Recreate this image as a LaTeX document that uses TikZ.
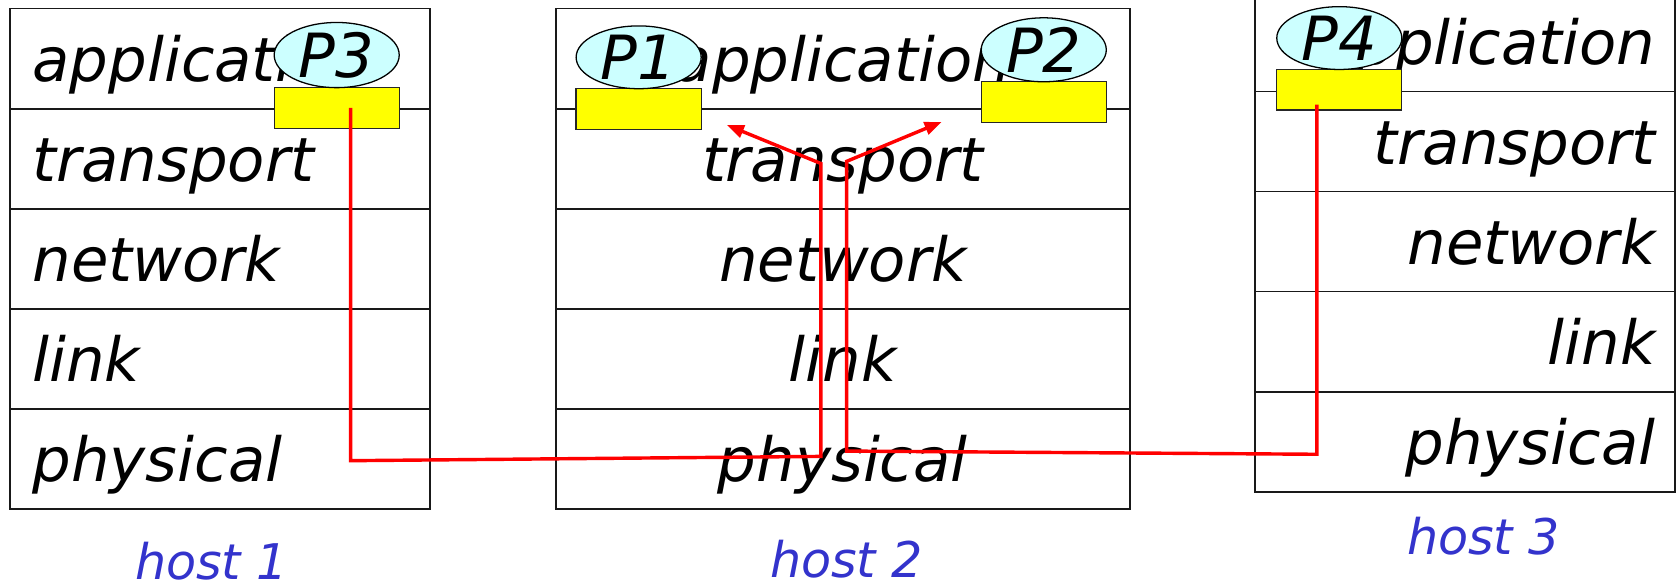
\documentclass[tikz,border=0pt]{standalone}
\usepackage{fontspec}
\setmainfont{DejaVu Sans}
\usetikzlibrary{shapes.geometric,arrows.meta,calc}
\definecolor{pcyan}{HTML}{CCFFFF}
\definecolor{sockyel}{HTML}{FFFF00}
\definecolor{hostblue}{HTML}{3333CC}
\definecolor{pathred}{HTML}{FF0000}
\begin{document}
\begin{tikzpicture}[x=0.5pt,y=-0.5pt,
  layerbox/.style={draw=black!90, line width=0.85pt, minimum height=46.8pt, inner sep=0pt, outer sep=0pt, anchor=north west},
  lyrtxt/.style={font=\fontsize{28.5}{30}\selectfont\itshape, inner sep=0pt},
  proc/.style={ellipse, draw=black, line width=0.6pt, fill=pcyan, minimum width=58.5pt, minimum height=29pt, inner sep=0pt, outer sep=0pt, font=\fontsize{28.5}{30}\selectfont\itshape},
  sock/.style={draw=black!85, line width=0.6pt, fill=sockyel, minimum width=58.5pt, minimum height=19pt, inner sep=0pt, outer sep=0pt},
  hostlbl/.style={font=\fontsize{23}{25}\selectfont\itshape, text=hostblue, inner sep=0pt, anchor=base},
  redline/.style={draw=pathred, line width=1.6pt, line join=miter},
  redarrow/.style={redline, -{Triangle[length=8pt,width=6pt]}}
]
\useasboundingbox (0,0) rectangle (1568,550);

% host 1
\node[layerbox, minimum width=196.5pt] (h1a) at (9,8) {};
\node[layerbox, minimum width=196.5pt] (h1t) at (h1a.south west) {};
\node[layerbox, minimum width=196.5pt] (h1n) at (h1t.south west) {};
\node[layerbox, minimum width=196.5pt] (h1l) at (h1n.south west) {};
\node[layerbox, minimum width=196.5pt] (h1p) at (h1l.south west) {};
\node[lyrtxt, anchor=base west] (h1at) at ($(h1a.north west)+(21,68)$) {application};
\node[lyrtxt, anchor=base west] (h1tt) at ($(h1t.north west)+(21,68)$) {transport};
\node[lyrtxt, anchor=base west] (h1nt) at ($(h1n.north west)+(21,68)$) {network};
\node[lyrtxt, anchor=base west] (h1lt) at ($(h1l.north west)+(21,68)$) {link};
\node[lyrtxt, anchor=base west] (h1pt) at ($(h1p.north west)+(21,68)$) {physical};

% host 2
\node[layerbox, minimum width=268.5pt] (h2a) at (520,8) {};
\node[layerbox, minimum width=268.5pt] (h2t) at (h2a.south west) {};
\node[layerbox, minimum width=268.5pt] (h2n) at (h2t.south west) {};
\node[layerbox, minimum width=268.5pt] (h2l) at (h2n.south west) {};
\node[layerbox, minimum width=268.5pt] (h2p) at (h2l.south west) {};
\node[lyrtxt, anchor=base] (h2at) at ($(h2a.north)+(0,68)$) {application};
\node[lyrtxt, anchor=base] (h2tt) at ($(h2t.north)+(0,68)$) {transport};
\node[lyrtxt, anchor=base] (h2nt) at ($(h2n.north)+(0,68)$) {network};
\node[lyrtxt, anchor=base] (h2lt) at ($(h2l.north)+(0,68)$) {link};
\node[lyrtxt, anchor=base] (h2pt) at ($(h2p.north)+(0,68)$) {physical};

% host 3
\node[layerbox, minimum width=196.5pt] (h3a) at (1174,-8) {};
\node[layerbox, minimum width=196.5pt] (h3t) at (h3a.south west) {};
\node[layerbox, minimum width=196.5pt] (h3n) at (h3t.south west) {};
\node[layerbox, minimum width=196.5pt] (h3l) at (h3n.south west) {};
\node[layerbox, minimum width=196.5pt] (h3p) at (h3l.south west) {};
\node[lyrtxt, anchor=base east] (h3at) at ($(h3a.north east)+(-18,68)$) {application};
\node[lyrtxt, anchor=base east] (h3tt) at ($(h3t.north east)+(-18,68)$) {transport};
\node[lyrtxt, anchor=base east] (h3nt) at ($(h3n.north east)+(-18,68)$) {network};
\node[lyrtxt, anchor=base east] (h3lt) at ($(h3l.north east)+(-18,68)$) {link};
\node[lyrtxt, anchor=base east] (h3pt) at ($(h3p.north east)+(-18,68)$) {physical};

% sockets and processes
\node[sock] (s3) at (315,101) {};
\node[proc, anchor=south] (p3) at (s3.north) {P3};
\node[sock] (s1) at (597.5,102) {};
\node[proc, anchor=south] (p1) at (s1.north) {P1};
\node[sock] (s2) at (976.5,95.5) {};
\node[proc, anchor=south] (p2) at (s2.north) {P2};
\node[sock] (s4) at (1253,84) {};
\node[proc, anchor=south] (p4) at (s4.north) {P4};

% red paths
\coordinate (a0) at (328,101);
\coordinate (a1) at (328,431);
\coordinate (a2) at (768,427);
\coordinate (a3) at (768,153);
\coordinate (a4) at (680,117);
\coordinate (b0) at (1232,98);
\coordinate (b1) at (1232,425);
\coordinate (b2) at (792,422);
\coordinate (b3) at (792,151);
\coordinate (b4) at (881,114);
\draw[redarrow] (a0) -- (a1) -- (a2) -- (a3) -- (a4);
\draw[redarrow] (b0) -- (b1) -- (b2) -- (b3) -- (b4);

% host labels
\node[hostlbl] (l1) at (198,542) {host 1};
\node[hostlbl] (l2) at (792,540) {host 2};
\node[hostlbl] (l3) at (1388,519) {host 3};
\end{tikzpicture}
\end{document}
